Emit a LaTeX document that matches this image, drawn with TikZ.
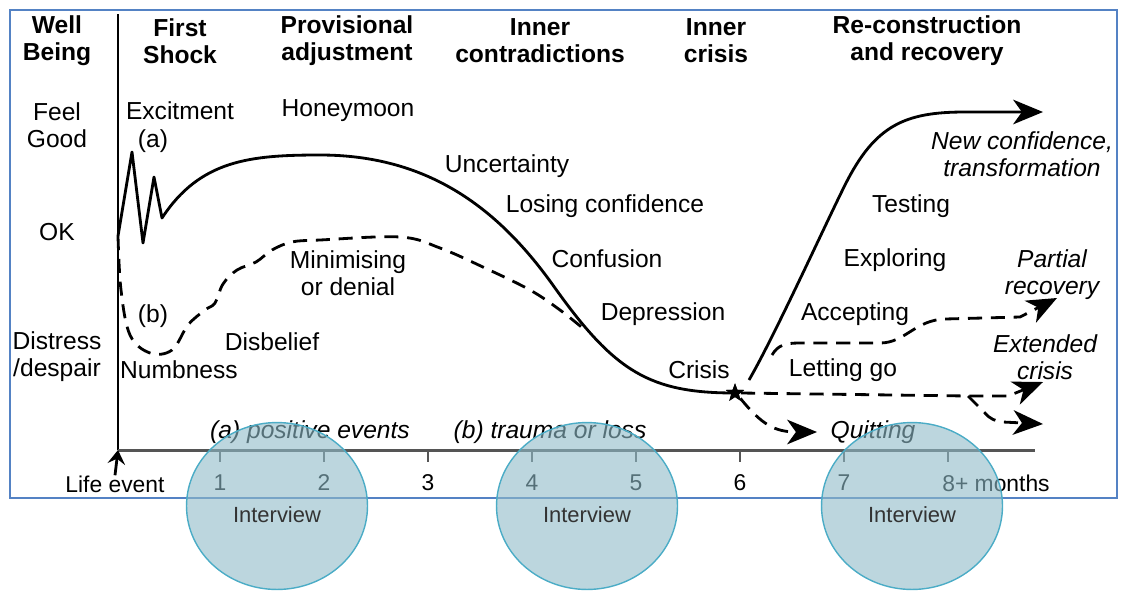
\documentclass[tikz,border=0pt]{standalone}
\usepackage{fontspec}
\setmainfont{Liberation Sans}
\usetikzlibrary{arrows.meta,shapes.geometric}

\definecolor{framecol}{RGB}{84,130,196}
\definecolor{ivline}{RGB}{75,172,198}
\definecolor{ivfill}{RGB}{143,187,200}
\definecolor{axiscol}{RGB}{85,85,85}

\begin{document}
\begin{tikzpicture}
	[x=0.02cm, y=-0.02cm,
	every node/.style={align=center, inner sep=0pt, font=\fontsize{14}{15.5}\selectfont},
	head/.style={font=\fontsize{14}{15.5}\selectfont\bfseries},
	note/.style={font=\fontsize{14}{15.5}\selectfont\itshape},
	axlabel/.style={font=\fontsize{13}{15}\selectfont},
	ivtext/.style={font=\fontsize{12.5}{14}\selectfont, text=black!80},
	interview/.style={ellipse, draw=ivline, line width=0.8pt, fill=ivfill, fill opacity=0.6,
		minimum width=103pt, minimum height=95pt},
	crisisstar/.style={star, star points=5, star point ratio=2.4, fill=black, minimum size=11pt},
	curve/.style={line width=1.6pt, line join=round},
	dcurve/.style={curve, dash pattern=on 8pt off 5pt},
	bigtip/.style={-{Stealth[length=17pt, width=14pt, inset=5pt]}},
	]

	\useasboundingbox (0,0) rectangle (1124,592);
	\draw[framecol, line width=0.85pt] (10,10) rectangle (1117,498);

	% Achsen
	\coordinate (origin) at (118,450);
	\coordinate (top) at (118,14);
	\coordinate (axend) at (1035,450);
	\draw[line width=1.1pt] (top) -- (origin);
	\draw[axiscol, line width=1.7pt] (origin) -- (axend);
	\node[axlabel] (life) at (115,484) {Life event};
	\draw[line width=1.6pt, -{Stealth[length=8pt, width=10pt, inset=3pt]}] (life.north) -- (origin);
	\foreach \m/\x in {1/220,2/324,3/428,4/532,5/636,6/740,7/844}{
		\draw[axiscol, line width=1.1pt] (\x,451) -- (\x,462);
		\node[axlabel] (m\m) at (\x,483) {\m};
	}
	\draw[axiscol, line width=1.1pt] (948,451) -- (948,462);
	\node[axlabel, anchor=west] (m8) at (942,483) {8+ months};

	% Phasen
	\node[head] (well) at (57,41) {Well\\Being};
	\node[head] (shock) at (180,41) {First\\Shock};
	\node[head] (prov) at (347,41) {Provisional\\adjustment};
	\node[head] (contra) at (540,41) {Inner\\contradictions};
	\node[head] (inner) at (716,41) {Inner\\crisis};
	\node[head] (recon) at (927,41) {Re-construction\\and recovery};

	\node (good) at (57,125) {Feel\\Good};
	\node (ok) at (57,232) {OK};
	\node (distress) at (57,357) {Distress\\/despair};

	% Kurven
	\coordinate (start) at (118,236);
	\node[crisisstar] (crisis) at (735,393) {};
	\draw[curve] (start) -- (132,152) -- (143,243) -- (154,177) -- (162,218)
		.. controls (200,160) and (250,155) .. (320,155)
		.. controls (430,155) and (500,210) .. (555,288)
		.. controls (615,372) and (650,393) .. (crisis.center);
	\draw[dcurve] plot[smooth, tension=0.6] coordinates {(118,236) (121,290) (130,335) (150,353) (172,350)
		(188,325) (205,310) (215,303) (223,284) (237,270) (256,262) (272,250) (292,242) (320,240)
		(400,237) (440,248) (485,268) (530,290) (560,310) (585,330)};
	\node[crisisstar] at (crisis) {};

	\coordinate (rise) at (749,380);
	\coordinate (upend) at (1043,112);
	\draw[curve, bigtip] (rise) .. controls (775,335) and (825,225) .. (845,185)
		.. controls (875,125) and (905,112) .. (965,112) -- (upend);
	\coordinate (partstart) at (772,355);
	\coordinate (partend) at (1057,298);
	\draw[dcurve, bigtip] (partstart) .. controls (778,345) and (785,343) .. (800,343) -- (880,343)
		.. controls (905,343) and (915,320) .. (945,319) -- (1020,317) -- (partend);
	\coordinate (fork) at (968,396);
	\coordinate (extend) at (1043,382);
	\draw[dcurve, bigtip] (crisis.east) -- (fork) -- (1008,396) -- (extend);
	\coordinate (lowend) at (1043,424);
	\draw[dcurve, bigtip] (fork) -- (985,413) .. controls (990,419) and (995,421) .. (1003,422) -- (lowend);
	\coordinate (quitend) at (817,432);
	\draw[dcurve, bigtip] (crisis.south east) .. controls (762,425) and (775,432) .. (quitend);

	% Beschriftungen
	\node (excite) at (180,111) {Excitment};
	\node (a) at (153,141) {(a)};
	\node (honey) at (348,111) {Honeymoon};
	\node (uncert) at (507,166) {Uncertainty};
	\node (losing) at (605,206) {Losing confidence};
	\node (confus) at (607,259) {Confusion};
	\node (depress) at (663,314) {Depression};
	\node (crisistext) at (699,370) {Crisis};
	\node (minim) at (348,273) {Minimising\\or denial};
	\node (b) at (153,316) {(b)};
	\node (disbelief) at (272,342) {Disbelief};
	\node (numb) at (179,370) {Numbness};
	\node (testing) at (911,206) {Testing};
	\node (explore) at (895,260) {Exploring};
	\node (accept) at (855,314) {Accepting};
	\node (letgo) at (843,370) {Letting go};
	\node[note] (newconf) at (1022,154) {New confidence,\\transformation};
	\node[note] (partial) at (1052,275) {Partial\\recovery};
	\node[note] (extended) at (1045,357) {Extended\\crisis};
	\node[note] (quitting) at (873,432) {Quitting};
	\node[note] (positive) at (310,432) {(a) positive events};
	\node[note] (trauma) at (550,432) {(b) trauma or loss};

	% Interviews
	\foreach \i/\x in {1/277,2/587,3/912}{
		\node[interview] (iv\i) at (\x,506) {};
		\node[ivtext] (ivt\i) at (\x,515) {Interview};
	}
\end{tikzpicture}
\end{document}
